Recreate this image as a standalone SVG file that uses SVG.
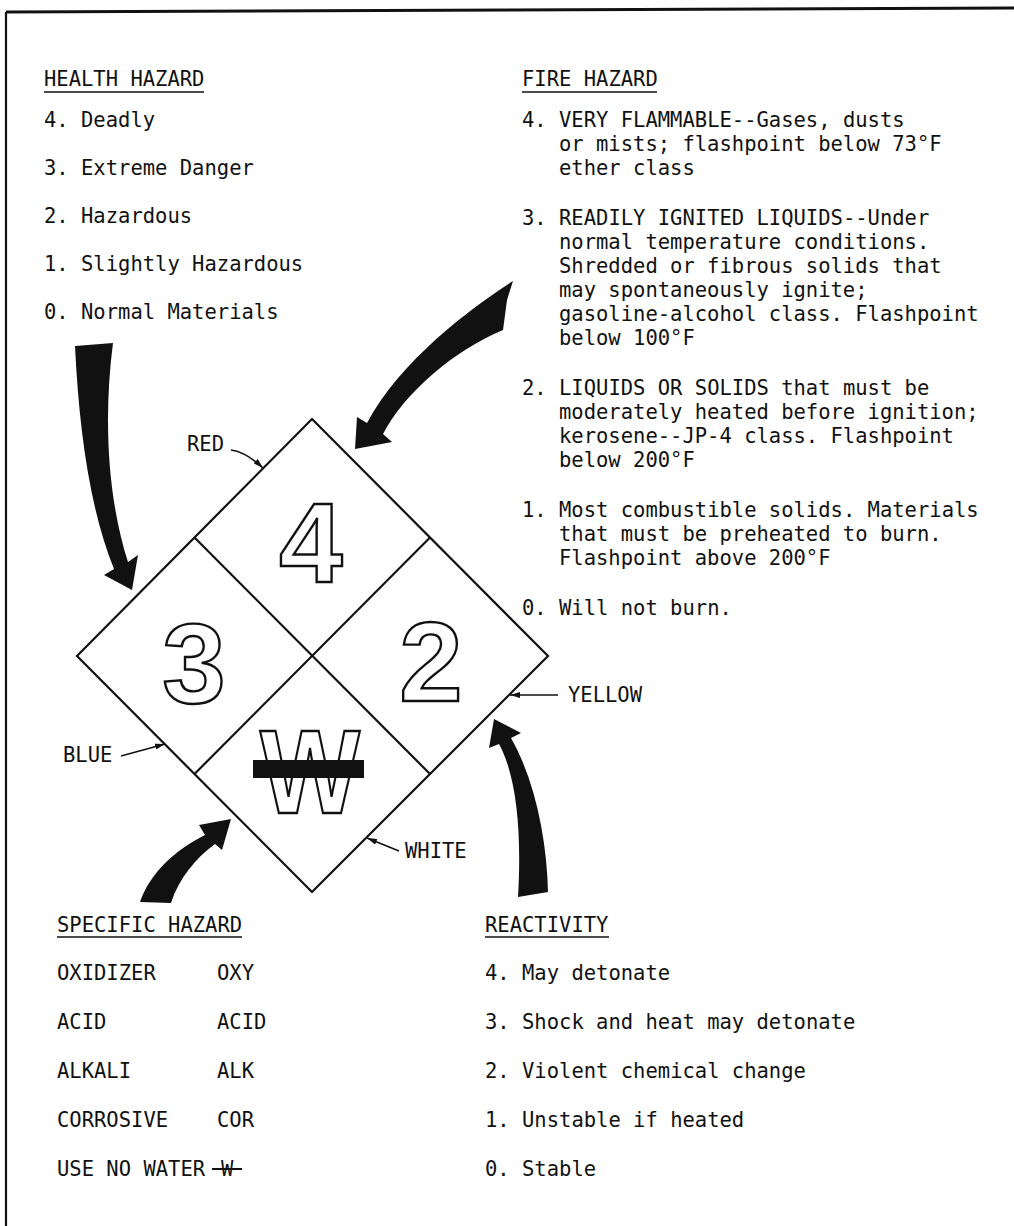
<svg xmlns="http://www.w3.org/2000/svg" width="1014" height="1226" viewBox="0 0 1014 1226">
<defs>
<style>
.t{font-family:"DejaVu Sans Mono","Liberation Mono",monospace;font-size:20.5px;fill:#111}
.num{font-family:"Liberation Sans",Arial,sans-serif;font-weight:bold;font-size:114px;fill:#fff;stroke:#111;stroke-width:2.4;text-anchor:middle}
.ul{stroke:#111;stroke-width:1.6;fill:none}
.edge{stroke:#111;stroke-width:2.2;fill:none}
.big{fill:#111;stroke:none}
.lead{stroke:#111;stroke-width:1.6;fill:none;marker-end:url(#ah)}
</style>
<marker id="ah" viewBox="0 0 10 6" refX="10" refY="3" markerWidth="10" markerHeight="6" markerUnits="userSpaceOnUse" orient="auto">
<path d="M0,0 L10,3 L0,6 Z" fill="#111"/>
</marker>
</defs>
<rect width="1014" height="1226" fill="#fff"/>
<g id="border">
<path class="edge" d="M6,12 L1014,8" style="stroke-width:2.8"/>
<path class="edge" d="M6,12 L6,1226"/>
</g>
<g id="health-hazard">
<text class="t" x="44" y="86">HEALTH HAZARD</text>
<line class="ul" x1="44" y1="92" x2="204" y2="92"/>
<text class="t" x="44" y="127">4. Deadly</text>
<text class="t" x="44" y="175">3. Extreme Danger</text>
<text class="t" x="44" y="223">2. Hazardous</text>
<text class="t" x="44" y="271">1. Slightly Hazardous</text>
<text class="t" x="44" y="319">0. Normal Materials</text>
</g>
<g id="fire-hazard">
<text class="t" x="522" y="86">FIRE HAZARD</text>
<line class="ul" x1="522" y1="92" x2="657" y2="92"/>
<text class="t" x="522" y="127">4. VERY FLAMMABLE--Gases, dusts</text>
<text class="t" x="559" y="151">or mists; flashpoint below 73°F</text>
<text class="t" x="559" y="175">ether class</text>
<text class="t" x="522" y="225">3. READILY IGNITED LIQUIDS--Under</text>
<text class="t" x="559" y="249">normal temperature conditions.</text>
<text class="t" x="559" y="273">Shredded or fibrous solids that</text>
<text class="t" x="559" y="297">may spontaneously ignite;</text>
<text class="t" x="559" y="321">gasoline-alcohol class. Flashpoint</text>
<text class="t" x="559" y="345">below 100°F</text>
<text class="t" x="522" y="395">2. LIQUIDS OR SOLIDS that must be</text>
<text class="t" x="559" y="419">moderately heated before ignition;</text>
<text class="t" x="559" y="443">kerosene--JP-4 class. Flashpoint</text>
<text class="t" x="559" y="467">below 200°F</text>
<text class="t" x="522" y="517">1. Most combustible solids. Materials</text>
<text class="t" x="559" y="541">that must be preheated to burn.</text>
<text class="t" x="559" y="565">Flashpoint above 200°F</text>
<text class="t" x="522" y="615">0. Will not burn.</text>
</g>
<g id="specific-hazard">
<text class="t" x="57" y="932">SPECIFIC HAZARD</text>
<line class="ul" x1="57" y1="937" x2="242" y2="937"/>
<text class="t" x="57" y="980">OXIDIZER</text><text class="t" x="217" y="980">OXY</text>
<text class="t" x="57" y="1029">ACID</text><text class="t" x="217" y="1029">ACID</text>
<text class="t" x="57" y="1078">ALKALI</text><text class="t" x="217" y="1078">ALK</text>
<text class="t" x="57" y="1127">CORROSIVE</text><text class="t" x="217" y="1127">COR</text>
<text class="t" x="57" y="1176">USE NO WATER</text><text class="t" x="221" y="1176">W</text>
<line class="ul" x1="212" y1="1169" x2="242" y2="1169" style="stroke-width:2"/>
</g>
<g id="reactivity">
<text class="t" x="485" y="932">REACTIVITY</text>
<line class="ul" x1="485" y1="937" x2="609" y2="937"/>
<text class="t" x="485" y="980">4. May detonate</text>
<text class="t" x="485" y="1029">3. Shock and heat may detonate</text>
<text class="t" x="485" y="1078">2. Violent chemical change</text>
<text class="t" x="485" y="1127">1. Unstable if heated</text>
<text class="t" x="485" y="1176">0. Stable</text>
</g>
<g id="diamond">
<polygon class="edge" points="312,419 548,656 312,892 77,656"/>
<line class="edge" x1="194.5" y1="537.5" x2="430" y2="774"/>
<line class="edge" x1="430" y1="537.5" x2="194.5" y2="774"/>
<g id="fire-number"><text class="num" x="311" y="582">4</text></g>
<g id="health-number"><text class="num" x="194" y="703">3</text></g>
<g id="reactivity-number"><text class="num" x="431" y="701">2</text></g>
<g id="specific-symbol">
<text class="num" x="310" y="813" textLength="100" lengthAdjust="spacingAndGlyphs" style="font-size:118px">W</text>
<rect x="253" y="760" width="111" height="18" fill="#111"/>
</g>
</g>
<g id="color-labels">
<text class="t" x="187" y="451">RED</text>
<text class="t" x="63" y="762">BLUE</text>
<text class="t" x="568" y="702">YELLOW</text>
<text class="t" x="405" y="858">WHITE</text>
</g>
<g id="connectors">
<path class="big" d="M75,346 C79,430 90,510 114,569 L104,575 L132,590 L138,555 L128,562 C108,500 103,420 113,343 Z"/>
<path class="big" d="M513,281 C475,305 400,360 367,423 L357,417 L355,449 L392,442 L383,434 C405,392 455,350 503,330 L507,300 Z"/>
<path class="big" d="M140,902 C150,873 175,850 205,835 L199,825 L231,819 L222,850 L215,844 C196,858 179,878 171,903 Z"/>
<path class="big" d="M518,897 C522,830 516,775 499,744 L489,748 L494,719 L521,733 L511,738 C535,780 547,840 548,892 Z"/>
<path class="lead" d="M231,450 Q246,452 263,468"/>
<path class="lead" d="M121,756 L165,744"/>
<path class="lead" d="M558,695 L510,695"/>
<path class="lead" d="M399,851 L367,838"/>
</g>
</svg>
